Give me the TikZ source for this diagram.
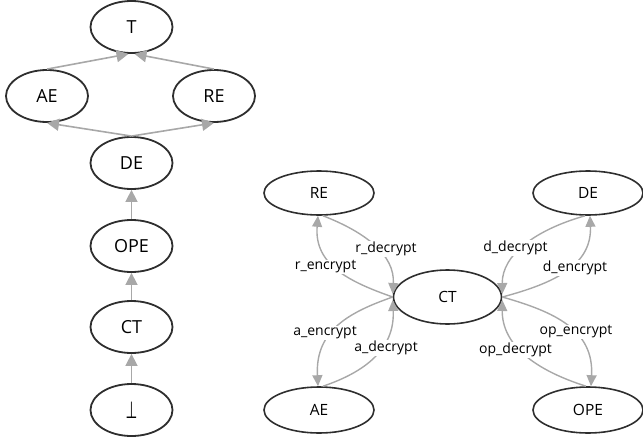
\documentclass[tikz,border=0pt]{standalone}
\usepackage{fontspec}
\setmainfont{Open Sans}
\newfontfamily\symfont{DejaVu Sans}
\usetikzlibrary{shapes.geometric,arrows.meta}
\definecolor{edgegray}{HTML}{A8A8A8}
\definecolor{nodeline}{HTML}{2E2E2E}
\begin{document}
\begin{tikzpicture}[x=1pt,y=-1pt,
 lnode/.style={ellipse,draw=nodeline,line width=1.8pt,inner sep=0pt,minimum width=82pt,minimum height=52pt,font=\fontsize{18}{20}\selectfont},
 rnode/.style={ellipse,draw=nodeline,line width=1.6pt,inner sep=0pt,minimum width=110pt,minimum height=44pt,font=\fontsize{15.5}{18}\selectfont},
 ledge/.style={draw=edgegray,line width=1.6pt,-{Triangle[length=12pt,width=12pt]}},
 redge/.style={draw=edgegray,line width=1.4pt,-{Triangle[length=11pt,width=10pt]}},
 elabel/.style={fill=white,inner sep=1pt,font=\fontsize{14}{16}\selectfont}]
\useasboundingbox (0,0) rectangle (643,442);
% left graph
\node[lnode] (T) at (131.5,27) {T};
\node[lnode] (AE) at (47,96) {AE};
\node[lnode] (RE) at (214,96) {RE};
\node[lnode] (DE) at (131.5,163) {DE};
\node[lnode] (OPE) at (131.5,246) {OPE};
\node[lnode] (CT) at (131.5,327) {CT};
\node[lnode] (bot) at (131.5,410) {\symfont\scalebox{0.75}[1.3]{⊥}};
\draw[ledge] (AE.north) -- ([xshift=-3pt]T.south);
\draw[ledge] (RE.north) -- ([xshift=3pt]T.south);
\draw[ledge] (DE.north) -- (AE.south);
\draw[ledge] (DE.north) -- (RE.south);
\draw[ledge] (OPE.north) -- (DE.south);
\draw[ledge] (CT.north) -- (OPE.south);
\draw[ledge] (bot.north) -- (CT.south);
% right graph
\node[rnode] (rRE) at (319,193) {RE};
\node[rnode] (rDE) at (588,193) {DE};
\node[rnode,minimum width=108pt,minimum height=54pt] (rCT) at (447.5,297) {CT};
\node[rnode,minimum height=46pt] (rAE) at (319,410) {AE};
\node[rnode,minimum height=46pt] (rOPE) at (588,410) {OPE};
\draw[redge] (rCT.west) .. controls (350,282) and (314,265) .. ([xshift=-1pt]rRE.south);
\draw[redge] ([xshift=4pt]rRE.south) .. controls (365,232) and (395,255) .. ([yshift=3pt]rCT.west);
\draw[redge] (rCT.west) .. controls (350,312) and (315,330) .. ([xshift=-1pt]rAE.north);
\draw[redge] ([xshift=4pt]rAE.north) .. controls (365,372) and (395,349) .. ([yshift=-3pt]rCT.west);
\draw[redge] ([xshift=-3pt]rDE.south) .. controls (535,230) and (502,255) .. ([yshift=3pt]rCT.east);
\draw[redge] (rCT.east) .. controls (555,283) and (592,265) .. ([xshift=2pt]rDE.south);
\draw[redge] (rCT.east) .. controls (555,312) and (594,330) .. ([xshift=3pt]rOPE.north);
\draw[redge] ([xshift=-2pt]rOPE.north) .. controls (535,370) and (502,345) .. ([yshift=-3pt]rCT.east);
\node[elabel] (l1) at (325.5,267) {r\_encrypt};
\node[elabel] (l2) at (386,249) {r\_decrypt};
\node[elabel] (l3) at (325,333) {a\_encrypt};
\node[elabel] (l4) at (386,348) {a\_decrypt};
\node[elabel] (l5) at (515.5,248) {d\_decrypt};
\node[elabel] (l6) at (575,268) {d\_encrypt};
\node[elabel] (l7) at (576,332) {op\_encrypt};
\node[elabel] (l8) at (515.5,350) {op\_decrypt};
\end{tikzpicture}
\end{document}
